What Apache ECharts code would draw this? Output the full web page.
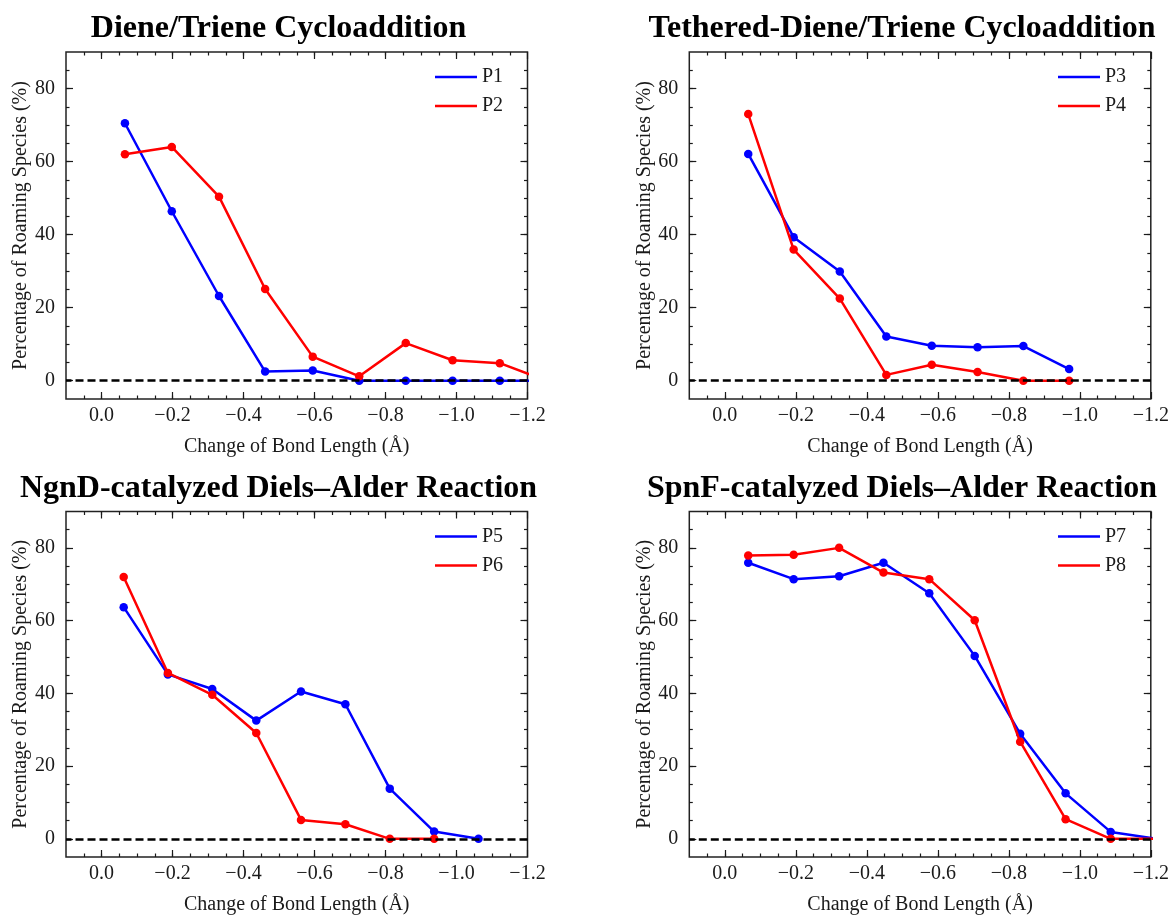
<!DOCTYPE html>
<html>
<head>
<meta charset="utf-8">
<script src="https://cdn.jsdelivr.net/npm/echarts@6/dist/echarts.min.js"></script>
<style>
html,body{margin:0;padding:0;background:#ffffff;}
#chart{width:1172px;height:916px;}
</style>
</head>
<body>
<div id="chart"></div>
<script>
// ---------- data ----------
const panelTitles = [
  'Diene/Triene Cycloaddition',
  'Tethered-Diene/Triene Cycloaddition',
  'NgnD-catalyzed Diels\u2013Alder Reaction',
  'SpnF-catalyzed Diels\u2013Alder Reaction'
];
const seriesNames = [['P1', 'P2'], ['P3', 'P4'], ['P5', 'P6'], ['P7', 'P8']];

// panel 1
const bondA = [-0.066, -0.198, -0.331, -0.461, -0.595, -0.726, -0.857, -0.989, -1.122, -1.253];
const p1 = [70.5, 46.4, 23.2, 2.5, 2.8, 0, 0, 0, 0, 0];
const p2 = [62.0, 64.0, 50.4, 25.1, 6.6, 1.2, 10.3, 5.6, 4.8, 0];
// panel 2
const bondB = [-0.066, -0.194, -0.324, -0.455, -0.583, -0.712, -0.841, -0.970];
const p3 = [62.1, 39.3, 29.9, 12.1, 9.6, 9.2, 9.5, 3.2];
const p4 = [73.0, 35.9, 22.5, 1.6, 4.4, 2.4, 0, 0];
// panel 3
const bondC = [-0.0625, -0.187, -0.312, -0.436, -0.562, -0.687, -0.812, -0.937, -1.062];
const p5 = [63.7, 45.2, 41.2, 32.5, 40.5, 37.0, 13.8, 2.0, 0];
const p6 = [72.0, 45.6, 39.6, 29.1, 5.2, 4.0, 0, 0];
// panel 4
const bondD = [-0.066, -0.194, -0.322, -0.447, -0.576, -0.704, -0.832, -0.960, -1.087, -1.215];
const p7 = [75.9, 71.4, 72.2, 75.9, 67.5, 50.3, 28.9, 12.5, 1.9, 0];
const p8 = [77.9, 78.1, 80.0, 73.2, 71.4, 60.1, 26.7, 5.4, 0, 0];

// ticks
const xMajorTicks = [0.0, -0.2, -0.4, -0.6, -0.8, -1.0, -1.2];
const xMinorTicks = [0.05, 0.0, -0.05, -0.1, -0.15, -0.2, -0.25, -0.3, -0.35, -0.4, -0.45, -0.5,
  -0.55, -0.6, -0.65, -0.7, -0.75, -0.8, -0.85, -0.9, -0.95, -1.0, -1.05, -1.1, -1.15];
const yMajorTicks = [0, 20, 40, 60, 80];
const yMinorTicks = [0, 5, 10, 15, 20, 25, 30, 35, 40, 45, 50, 55, 60, 65, 70, 75, 80, 85];

const xName = 'Change of Bond Length (\u00C5)';
const yName = 'Percentage of Roaming Species (%)';

// ---------- layout / style ----------
const FONT = "'Liberation Serif', 'Times New Roman', serif";
const TXT = '#1a1a1a';
const BLUE = '#0000ff';
const RED = '#ff0000';

const gridPos = [
  {left: 66, top: 52}, {left: 689.3, top: 52},
  {left: 66, top: 511.5}, {left: 689.3, top: 511.5}
];
const GW = 461.5, GH = 347;
const titlePos = [[278.5, 29], [902, 29], [278.5, 488.5], [902, 488.5]];
const legendPos = [[430, 62], [1053, 62], [430, 521.5], [1053, 521.5]];

const panelData = [
  [bondA, p1, bondA, p2],
  [bondB, p3, bondB, p4],
  [bondC, p5, bondC.slice(0, p6.length), p6],
  [bondD, p7, bondD, p8]
];

function pairs(xs, ys) { return ys.map((v, i) => [xs[i], v]); }
function fmtX(v) {
  if (Math.abs(v) < 1e-9) return '0.0';
  const s = Math.abs(v).toFixed(1);
  return v < 0 ? '\u2212' + s : s;
}

const grids = [], xAxes = [], yAxes = [], series = [], legends = [], graphics = [];
const tickStyle = {color: TXT, width: 1.2};

for (let g = 0; g < 4; g++) {
  grids.push({left: gridPos[g].left, top: gridPos[g].top, width: GW, height: GH,
    show: true, borderColor: '#222', borderWidth: 1.5, backgroundColor: 'transparent'});

  const baseX = {type: 'value', gridIndex: g, min: -1.2, max: 0.1, inverse: true,
    splitLine: {show: false}, axisLine: {show: false, onZero: false}};
  xAxes.push(Object.assign({}, baseX, {
    position: 'bottom',
    axisTick: {show: true, inside: true, length: 7, lineStyle: tickStyle, customValues: xMajorTicks},
    axisLabel: {show: true, margin: 7, color: TXT, fontFamily: FONT, fontSize: 20,
      customValues: xMajorTicks, formatter: fmtX},
    name: xName, nameLocation: 'middle', nameGap: 38,
    nameTextStyle: {color: TXT, fontFamily: FONT, fontSize: 20}
  }));
  xAxes.push(Object.assign({}, baseX, {
    position: 'bottom',
    axisTick: {show: true, inside: true, length: 3.5, lineStyle: tickStyle, customValues: xMinorTicks},
    axisLabel: {show: false}
  }));
  xAxes.push(Object.assign({}, baseX, {
    position: 'top',
    axisTick: {show: true, inside: true, length: 7, lineStyle: tickStyle, customValues: xMajorTicks},
    axisLabel: {show: false}
  }));
  xAxes.push(Object.assign({}, baseX, {
    position: 'top',
    axisTick: {show: true, inside: true, length: 3.5, lineStyle: tickStyle, customValues: xMinorTicks},
    axisLabel: {show: false}
  }));

  const baseY = {type: 'value', gridIndex: g, min: -5, max: 90,
    splitLine: {show: false}, axisLine: {show: false, onZero: false}};
  yAxes.push(Object.assign({}, baseY, {
    position: 'left',
    axisTick: {show: true, inside: true, length: 7, lineStyle: tickStyle, customValues: yMajorTicks},
    axisLabel: {show: true, margin: 11, color: TXT, fontFamily: FONT, fontSize: 20,
      customValues: yMajorTicks},
    name: yName, nameLocation: 'middle', nameGap: 35,
    nameTextStyle: {color: TXT, fontFamily: FONT, fontSize: 20}
  }));
  yAxes.push(Object.assign({}, baseY, {
    position: 'left',
    axisTick: {show: true, inside: true, length: 3.5, lineStyle: tickStyle, customValues: yMinorTicks},
    axisLabel: {show: false}
  }));
  yAxes.push(Object.assign({}, baseY, {
    position: 'right',
    axisTick: {show: true, inside: true, length: 7, lineStyle: tickStyle, customValues: yMajorTicks},
    axisLabel: {show: false}
  }));
  yAxes.push(Object.assign({}, baseY, {
    position: 'right',
    axisTick: {show: true, inside: true, length: 3.5, lineStyle: tickStyle, customValues: yMinorTicks},
    axisLabel: {show: false}
  }));

  const d = panelData[g];
  const colors = [BLUE, RED];
  for (let s = 0; s < 2; s++) {
    const ser = {
      type: 'line', name: seriesNames[g][s],
      xAxisIndex: 4 * g, yAxisIndex: 4 * g,
      data: pairs(d[2 * s], d[2 * s + 1]),
      symbol: 'circle', symbolSize: 8.5, showSymbol: true,
      lineStyle: {color: colors[s], width: 2.5},
      itemStyle: {color: colors[s]},
      clip: true, z: 2 + s
    };
    if (s === 1) {
      ser.markLine = {
        silent: true, symbol: ['none', 'none'], label: {show: false},
        lineStyle: {color: '#000', width: 2.5, type: [8, 4]},
        data: [{yAxis: 0}], z: 5
      };
    }
    series.push(ser);
  }

  legends.push({
    show: true, orient: 'vertical', left: legendPos[g][0], top: legendPos[g][1],
    data: seriesNames[g], icon: 'rect', itemWidth: 42, itemHeight: 2.5, itemGap: 9,
    selectedMode: false,
    textStyle: {color: TXT, fontFamily: FONT, fontSize: 20, padding: [0, 0, 0, 0]}
  });

  graphics.push({
    type: 'text', x: titlePos[g][0], y: titlePos[g][1],
    style: {text: panelTitles[g], fill: '#000', font: "bold 32px " + FONT,
      align: 'center', verticalAlign: 'middle'}
  });
}

const chart = echarts.init(document.getElementById('chart'), null, {renderer: 'canvas'});
chart.setOption({
  animation: false,
  backgroundColor: '#ffffff',
  grid: grids,
  xAxis: xAxes,
  yAxis: yAxes,
  legend: legends,
  series: series,
  graphic: graphics
});
</script>
</body>
</html>
